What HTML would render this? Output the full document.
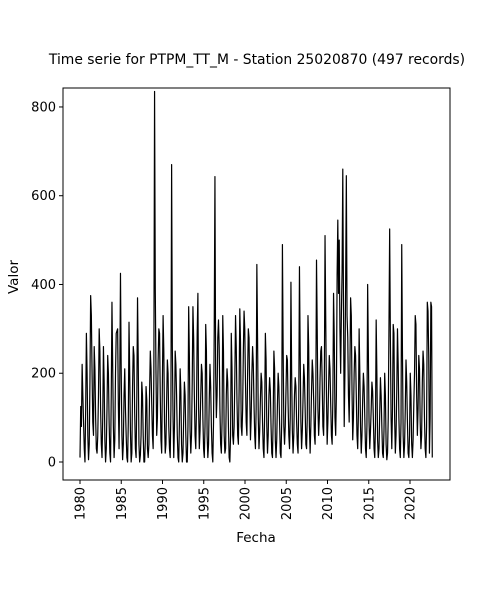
<!DOCTYPE html>
<html><head><meta charset="utf-8"><style>
body{margin:0;background:#fff;font-family:"Liberation Sans","DejaVu Sans",sans-serif}
</style></head><body>
<svg width="500" height="600" xmlns="http://www.w3.org/2000/svg" font-family="DejaVu Sans, Liberation Sans, sans-serif">
<text x="257" y="64" text-anchor="middle" font-size="13.9">Time serie for PTPM_TT_M - Station 25020870 (497 records)</text>
<rect x="63" y="88" width="387" height="392" fill="none" stroke="#000" stroke-width="1"/>
<g id="yticks"></g>
<g id="xticks"></g>
<polyline id="series" fill="none" stroke="#000" stroke-width="1.2" stroke-linejoin="round"/>
<text x="256" y="542" text-anchor="middle" font-size="13.5">Fecha</text>
<text x="18" y="277" text-anchor="middle" font-size="13.5" transform="rotate(-90 18 277)">Valor</text>
</svg>
<script>
const yTicks=[0,200,400,600,800];
const xTicks=[1980,1985,1990,1995,2000,2005,2010,2015,2020];
const startYear=1980, endYear=2022.7;
const values=[
10,125,80,220,150,90,30,0,120,290,200,60,
5,40,180,375,330,200,90,60,260,210,100,30,
20,60,150,300,250,120,40,10,100,260,180,50,
0,30,120,240,200,90,20,0,150,360,220,80,
10,50,200,290,295,300,130,30,180,425,210,60,
5,40,150,210,120,60,10,0,90,315,200,70,
0,20,170,260,240,110,30,10,150,370,230,40,
0,15,60,180,150,60,0,0,50,170,140,30,
10,40,160,250,210,130,60,30,200,835,390,200,
60,100,230,300,290,150,50,20,180,330,250,90,
20,40,140,230,200,80,30,10,120,670,260,100,
10,80,250,220,150,60,10,0,90,210,160,40,
0,20,100,180,150,60,0,0,80,350,240,70,
20,60,180,350,280,150,60,30,120,290,380,120,
30,70,150,220,200,100,30,10,80,310,250,60,
10,40,140,220,170,80,20,0,90,300,643,200,
100,150,280,320,260,120,40,20,90,330,250,60,
20,30,150,210,180,80,10,0,60,290,210,60,
40,80,190,330,260,140,60,40,160,345,270,80,
60,120,250,340,300,180,90,60,200,300,280,150,
50,100,200,260,220,130,60,30,120,445,280,100,
30,70,140,200,180,90,30,10,110,290,230,80,
20,60,150,190,160,80,20,10,100,250,210,50,
10,50,130,200,170,90,20,10,90,490,260,80,
40,80,160,240,230,130,60,30,100,405,200,70,
20,60,150,190,170,90,40,20,130,440,250,90,
30,70,140,220,190,120,40,30,100,330,260,80,
20,80,160,230,200,140,60,40,150,455,300,120,
60,100,190,250,260,180,80,60,170,510,320,150,
40,90,170,240,210,130,60,40,140,380,280,100,
60,150,420,545,380,500,300,200,330,430,660,350,
80,200,400,645,330,280,150,90,200,370,330,160,
50,100,200,260,240,150,60,30,110,300,200,80,
20,60,140,200,170,100,30,10,80,400,250,90,
30,70,120,180,160,100,30,10,80,320,200,50,
10,30,110,190,150,80,20,10,70,200,150,40,
5,20,100,300,525,280,100,30,120,310,290,100,
20,60,160,300,220,100,30,10,90,490,250,60,
10,40,120,230,180,90,20,10,60,200,150,40,
10,50,130,200,330,310,150,60,120,240,210,90,
30,60,180,250,220,100,30,10,80,360,340,240,
20,100,360,350,10
];
const NS='http://www.w3.org/2000/svg';
const X=yr=>80+(yr-1980)*8.25;
const Y=v=>462-v*0.4438;
const yg=document.getElementById('yticks');
yTicks.forEach(t=>{
 const l=document.createElementNS(NS,'line');
 
 
 l.setAttribute('x1',63);l.setAttribute('x2',59);l.setAttribute('y1',Y(t));l.setAttribute('y2',Y(t));l.setAttribute('stroke','#000');
 yg.appendChild(l);
 const tx=document.createElementNS(NS,'text');
 
 
 tx.setAttribute('x',56);tx.setAttribute('y',Y(t)+4.5);tx.setAttribute('text-anchor','end');tx.setAttribute('font-size','13');
 tx.textContent=t;yg.appendChild(tx);
});
const xg=document.getElementById('xticks');
xTicks.forEach(t=>{
 const l=document.createElementNS(NS,'line');
 
 
 l.setAttribute('x1',X(t));l.setAttribute('x2',X(t));l.setAttribute('y1',480);l.setAttribute('y2',484);l.setAttribute('stroke','#000');
 xg.appendChild(l);
 const tx=document.createElementNS(NS,'text');
 
 
 const px=X(t)+4.5,py=487;
 tx.setAttribute('x',px);tx.setAttribute('y',py);tx.setAttribute('text-anchor','end');tx.setAttribute('font-size','13');
 tx.setAttribute('transform','rotate(-90 '+px+' '+py+')');
 tx.textContent=t;xg.appendChild(tx);
});
const n=values.length;
const pts=values.map((v,i)=>{const yr=startYear+i*(endYear-startYear)/(n-1);return X(yr).toFixed(2)+','+Y(v).toFixed(2);});
document.getElementById('series').setAttribute('points',pts.join(' '));
</script>
</body></html>
